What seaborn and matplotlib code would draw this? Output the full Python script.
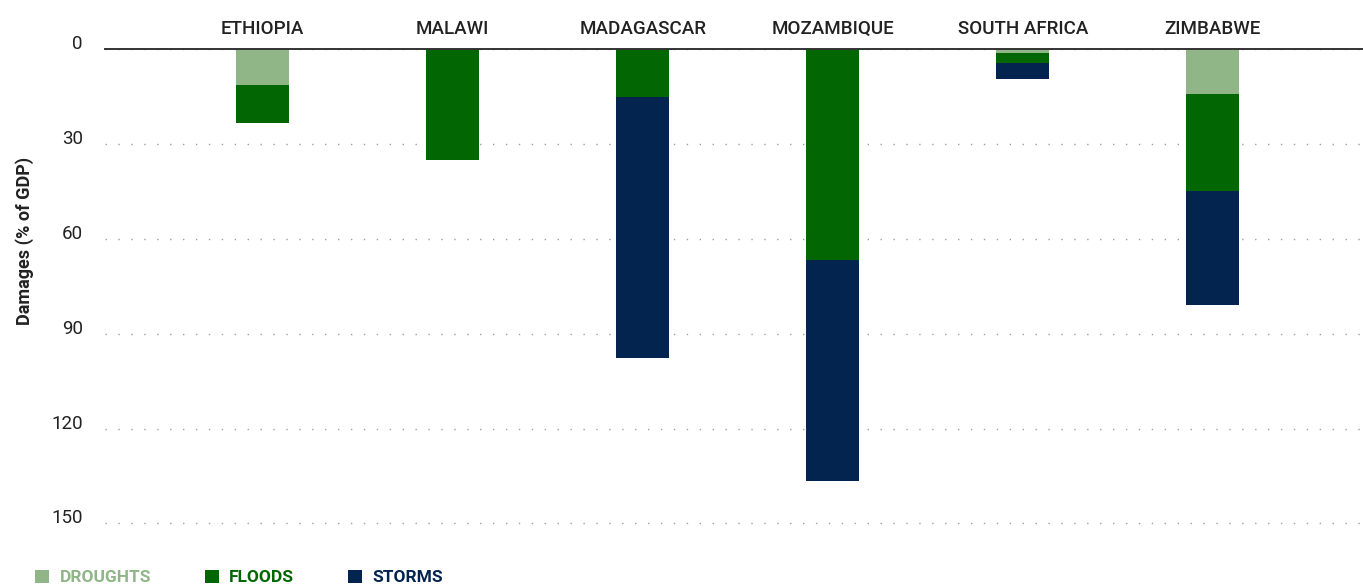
import matplotlib
matplotlib.use("Agg")
import matplotlib.pyplot as plt
import matplotlib.transforms as mtransforms
from matplotlib.patches import Patch
import pandas as pd
import seaborn as sns

countries = ["ETHIOPIA", "MALAWI", "MADAGASCAR", "MOZAMBIQUE", "SOUTH AFRICA", "ZIMBABWE"]
droughts = [11.4, 0.0, 0.0, 0.0, 1.3, 14.2]
floods = [12.0, 35.1, 15.2, 66.8, 3.2, 30.7]
storms = [0.0, 0.0, 82.6, 69.9, 5.0, 36.1]

hazards = ["DROUGHTS", "FLOODS", "STORMS"]
colors = {"DROUGHTS": "#90b688", "FLOODS": "#026602", "STORMS": "#02244f"}

sns.set_style("white")
plt.rcParams["font.family"] = ["Roboto", "DejaVu Sans"]

df = pd.DataFrame({"country": countries, "DROUGHTS": droughts,
                   "FLOODS": floods, "STORMS": storms})
# cumulative totals so the layers can be overdrawn from the deepest up
df["cum_DROUGHTS"] = df["DROUGHTS"]
df["cum_FLOODS"] = df["cum_DROUGHTS"] + df["FLOODS"]
df["cum_STORMS"] = df["cum_FLOODS"] + df["STORMS"]

fig = plt.figure(figsize=(13.63, 5.86), dpi=100)
ax = fig.add_axes([0.077, 0.0797, 0.923, 0.8367])

for h in reversed(hazards):
    sns.barplot(data=df, x="country", y="cum_" + h, order=countries,
                color=colors[h], width=0.28, saturation=1, linewidth=0,
                ax=ax, zorder=3)

ax.set_xlim(-0.83, 5.79)
ax.set_ylim(155, 0)
ax.set_yticks([0, 30, 60, 90, 120, 150])
ax.yaxis.grid(True, linestyle=(0, (1, 8.3)), color="#a0a0a0", linewidth=1.0)
ax.xaxis.grid(False)

for s in ["left", "right", "bottom"]:
    ax.spines[s].set_visible(False)
ax.spines["top"].set_color("#333333")
ax.spines["top"].set_linewidth(1.4)
ax.spines["top"].set_zorder(5)

ax.xaxis.tick_top()
ax.tick_params(axis="x", length=0, pad=8, labelsize=13.5, labelcolor="#222222")
for lbl in ax.get_xticklabels():
    lbl.set_fontweight("medium")
ax.tick_params(axis="y", length=0, pad=16, labelsize=13.5, labelcolor="#222222")
offset = mtransforms.ScaledTranslation(0, 0.07, fig.dpi_scale_trans)
for lbl in ax.get_yticklabels():
    lbl.set_transform(lbl.get_transform() + offset)

ax.set_xlabel("")
ax.set_ylabel("Damages (% of GDP)", fontsize=13, fontweight="bold",
              color="#222222", labelpad=0)
ax.yaxis.set_label_coords(-0.0565, 0.608)

handles = [Patch(facecolor=colors[h], edgecolor="none") for h in hazards]
fig.legend(handles, hazards, loc="center left", bbox_to_anchor=(0.0145, 0.0145),
           ncol=3, frameon=False, handlelength=0.8, handleheight=0.8,
           handletextpad=0.6, columnspacing=3.1, labelcolor=[colors[h] for h in hazards],
           prop={"size": 12.5, "weight": "bold"})

fig.savefig("out.png", dpi=100)
